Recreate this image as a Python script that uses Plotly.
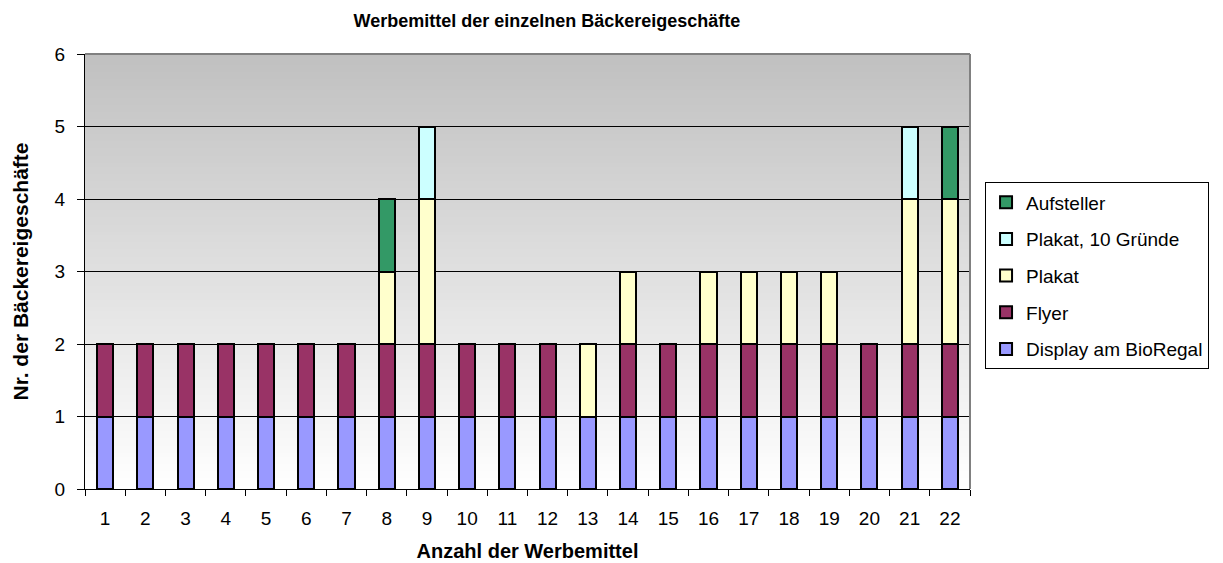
import plotly.graph_objects as go

categories = [str(i) for i in range(1, 23)]
display = [1]*22
flyer = [1,1,1,1,1,1,1,1,1,1,1,1,0,1,1,1,1,1,1,1,1,1]
plakat = [0,0,0,0,0,0,0,1,2,0,0,0,1,1,0,1,1,1,1,0,2,2]
plakat10 = [0,0,0,0,0,0,0,0,1,0,0,0,0,0,0,0,0,0,0,0,1,0]
aufsteller = [0,0,0,0,0,0,0,1,0,0,0,0,0,0,0,0,0,0,0,0,0,1]

series = [
    ("Display am BioRegal", display, "#9999FF"),
    ("Flyer", flyer, "#993366"),
    ("Plakat", plakat, "#FFFFCC"),
    ("Plakat, 10 Gründe", plakat10, "#CCFFFF"),
    ("Aufsteller", aufsteller, "#339966"),
]

fig = go.Figure()
for idx, (name, vals, col) in enumerate(series):
    fig.add_trace(go.Bar(
        x=categories, y=vals, name=name, legendgroup=name,
        legendrank=1000 - idx,
        marker=dict(color=col, line=dict(color="black", width=2)),
    ))

# gradient background
n = 120
shapes = []
for i in range(n):
    t = i / n
    g = int(round(255 - (255 - 192) * (t + 0.5 / n)))
    shapes.append(dict(type="rect", xref="x domain", yref="y domain",
                       x0=0, x1=1, y0=t, y1=min(1.0, (i + 1.6) / n),
                       fillcolor=f"rgb({g},{g},{g})", line=dict(width=0),
                       layer="below"))
shapes.append(dict(type="line", xref="x domain", yref="y domain",
                   x0=1, x1=1, y0=0, y1=1, line=dict(color="#808080", width=2)))
shapes.append(dict(type="line", xref="x domain", yref="y domain",
                   x0=0, x1=1, y0=1, y1=1, line=dict(color="#808080", width=2)))

fig.update_layout(
    width=1223, height=563,
    margin=dict(l=72, r=261, t=46, b=80),
    paper_bgcolor="white", plot_bgcolor="white",
    barmode="stack", bargap=0.6,
    font=dict(family="Liberation Sans, Arial", size=19, color="black"),
    title=dict(text="<b>Werbemittel der einzelnen Bäckereigeschäfte</b>",
               x=0.522, xref="paper", xanchor="center", y=0.978, yanchor="middle",
               font=dict(size=18)),
    shapes=shapes,
    legend=dict(x=1.017, y=0.705, xanchor="left", yanchor="top",
                traceorder="grouped", bordercolor="black", borderwidth=1,
                bgcolor="white", tracegroupgap=9, font=dict(size=19)),
    xaxis=dict(title=dict(text="<b>Anzahl der Werbemittel</b>", font=dict(size=20), standoff=16),
               showline=True, linecolor="black", linewidth=1,
               ticks="outside", tickson="boundaries", ticklen=6, tickcolor="black",
               ticklabelstandoff=12, tickfont=dict(size=19),
               showgrid=False),
    yaxis=dict(title=dict(text="<b>Nr. der Bäckereigeschäfte</b>", font=dict(size=21), standoff=20),
               range=[0, 6], dtick=1, showline=True, linecolor="black", linewidth=1,
               ticks="outside", ticklen=7, tickcolor="black",
               ticklabelstandoff=8, tickfont=dict(size=19),
               showgrid=True, gridcolor="black", gridwidth=1, zeroline=False),
)

fig.write_html("out.html")
